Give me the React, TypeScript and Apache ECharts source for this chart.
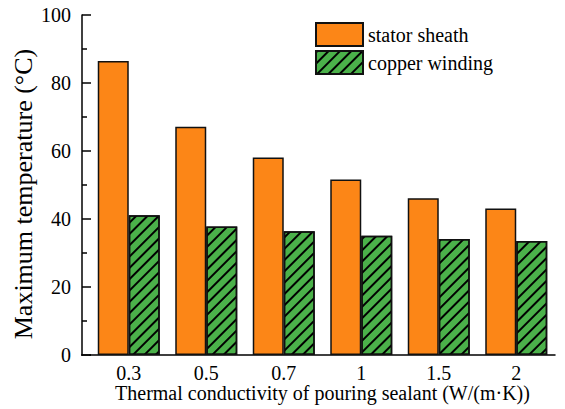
import React, { useEffect, useRef } from "react";
import * as echarts from "echarts";

// Thermal conductivity of the pouring sealant, W/(m·K)
const conductivity = ["0.3", "0.5", "0.7", "1", "1.5", "2"];
// Maximum temperature, °C
const statorSheath = [86.5, 67.1, 58.1, 51.6, 46.1, 43.1];
const copperWinding = [41.1, 37.8, 36.4, 35.1, 34.1, 33.5];

const FONT = "Liberation Serif";

export default function App() {
  const ref = useRef<HTMLDivElement>(null);

  useEffect(() => {
    if (!ref.current) return;
    const chart = echarts.init(ref.current, null, { renderer: "svg" });
    chart.setOption({
      animation: false,
      backgroundColor: "#ffffff",
      textStyle: { fontFamily: FONT, color: "#000" },
      grid: { left: 90, right: 10, top: 15, bottom: 54, outerBoundsMode: "none", containLabel: false },
      legend: {
        orient: "vertical",
        left: 315,
        top: 22,
        padding: 0,
        itemWidth: 47,
        itemHeight: 23,
        itemGap: 3,
        icon: "rect",
        textStyle: { fontFamily: FONT, fontSize: 20, color: "#000" },
        data: ["stator sheath", "copper winding"],
      },
      xAxis: {
        type: "category",
        data: conductivity,
        name: "Thermal conductivity of pouring sealant (W/(m·K))",
        nameLocation: "middle",
        nameGap: 28,
        nameMoveOverlap: false,
        nameTextStyle: { fontFamily: FONT, fontSize: 20, color: "#000" },
        axisLine: { lineStyle: { color: "#000", width: 1.5 } },
        axisTick: { inside: true, length: 4, lineStyle: { color: "#000", width: 1.5 } },
        axisLabel: { fontFamily: FONT, fontSize: 20, color: "#000", margin: 8 },
      },
      yAxis: {
        type: "value",
        min: 0,
        max: 100,
        interval: 20,
        offset: 8,
        name: "Maximum temperature (°C)",
        nameLocation: "middle",
        nameGap: 46,
        nameRotate: 90,
        nameMoveOverlap: false,
        nameTextStyle: {
          fontFamily: FONT,
          fontSize: 26,
          color: "#000",
          align: "center",
          verticalAlign: "bottom",
          padding: [0, 18, 0, 0],
        },
        axisLine: { show: true, lineStyle: { color: "#000", width: 1.5 } },
        axisTick: { show: true, inside: true, length: 9, lineStyle: { color: "#000", width: 1.5 } },
        minorTick: { show: true, splitNumber: 2, length: 5, lineStyle: { color: "#000", width: 1.5 } },
        axisLabel: { fontFamily: FONT, fontSize: 20, color: "#000", margin: 11 },
        splitLine: { show: false },
      },
      graphic: [
        {
          type: "line",
          shape: { x1: 81, y1: 355, x2: 91, y2: 355 },
          style: { stroke: "#000", lineWidth: 1.5 },
          silent: true,
        },
      ],
      series: [
        {
          name: "stator sheath",
          type: "bar",
          data: statorSheath,
          barGap: "0%",
          barCategoryGap: "20%",
          itemStyle: { color: "#FC8617", borderColor: "#111", borderWidth: 1.5 },
        },
        {
          name: "copper winding",
          type: "bar",
          data: copperWinding,
          barGap: "0%",
          barCategoryGap: "20%",
          itemStyle: {
            color: "#4BB14A",
            borderColor: "#111",
            borderWidth: 1.5,
            decal: {
              symbol: "rect",
              symbolSize: 1,
              color: "#000",
              dashArrayX: [1, 0],
              dashArrayY: [1.4, 5.6],
              rotation: -Math.PI / 4,
            },
          },
        },
      ],
    });
    return () => chart.dispose();
  }, []);

  return (
    <div
      ref={ref}
      style={{ position: "fixed", left: 0, top: 0, width: 565, height: 409 }}
    />
  );
}
